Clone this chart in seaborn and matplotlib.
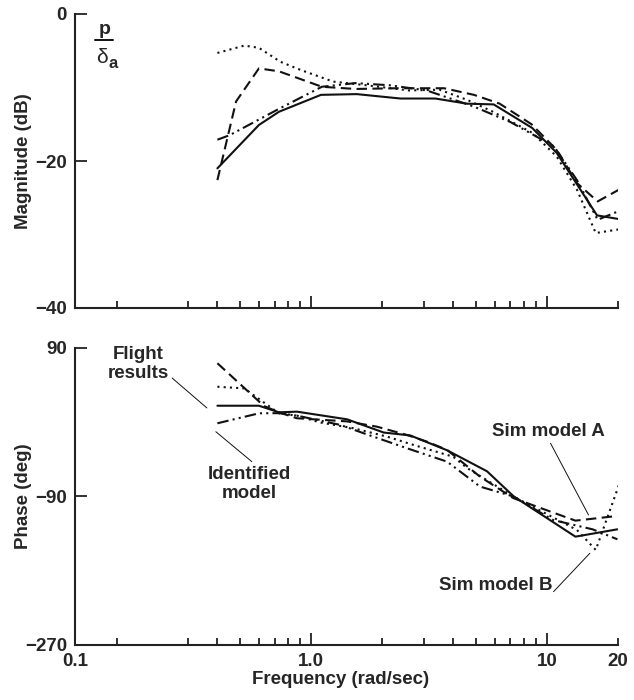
import matplotlib
matplotlib.use("Agg")
import matplotlib.pyplot as plt
from matplotlib.lines import Line2D
from matplotlib.ticker import FixedLocator, NullFormatter
import seaborn as sns
import pandas as pd

# ---------------- data ----------------
# Magnitude (dB)
flight_mag_f = [0.4, 0.6, 0.73, 1.1, 1.56, 2.39, 3.36, 4.58, 5.94, 8.65, 11.0, 16.3, 20.2]
flight_mag = [-21.0, -15.1, -13.3, -11.0, -10.9, -11.5, -11.5, -12.2, -12.3, -15.5, -18.9, -27.4, -27.9]

simA_mag_f = [0.4, 0.48, 0.6, 0.73, 1.11, 1.54, 2.32, 3.66, 4.9, 6.3, 8.6, 11.0, 13.4, 16.4, 20.2]
simA_mag = [-22.6, -11.9, -7.4, -7.8, -9.9, -10.2, -10.1, -10.1, -11.0, -12.2, -15.0, -18.5, -23.0, -25.5, -23.9]

simB_mag_f = [0.4, 0.52, 0.6, 0.74, 0.9, 1.24, 1.72, 2.6, 3.5, 4.6, 5.9, 8.7, 11.0, 13.4, 16.1, 20.2]
simB_mag = [-5.3, -4.3, -4.6, -6.5, -7.6, -9.2, -9.7, -10.4, -10.3, -11.7, -13.3, -16.2, -19.4, -23.9, -29.8, -29.3]

ident_mag_f = [0.4, 0.45, 0.74, 1.11, 1.54, 2.16, 3.09, 4.9, 7.0, 10.7, 13.4, 16.4, 20.2]
ident_mag = [-17.1, -16.5, -12.8, -9.9, -9.4, -9.7, -10.4, -12.6, -14.7, -18.0, -22.6, -28.0, -26.8]

# Phase (deg)
flight_ph_f = [0.4, 0.6, 0.73, 0.87, 1.42, 2.03, 2.63, 3.77, 5.57, 7.23, 13.2, 19.9]
flight_ph = [20, 20, 12, 12.8, 3.5, -12.5, -16, -34, -59.5, -90, -138.7, -129.8]

simA_ph_f = [0.4, 0.63, 0.73, 0.87, 1.42, 1.9, 2.55, 3.1, 3.77, 5.2, 7.2, 13.2, 19.9]
simA_ph = [71.5, 19.7, 12, 4.8, 1, -5.4, -15.5, -23.6, -33.6, -66, -92, -119.3, -113.6]

simB_ph_f = [0.4, 0.52, 0.73, 0.87, 1.09, 1.51, 2.1, 2.72, 4.0, 4.6, 7.2, 13.4, 16.1, 20.2]
simB_ph = [43, 41, 10.8, 8, -0.3, -7.3, -17.5, -27.6, -41.8, -55.8, -90, -130.6, -154.8, -76]

ident_ph_f = [0.4, 0.6, 0.73, 0.87, 1.33, 1.67, 2.55, 3.77, 5.2, 7.2, 10.6, 15.6, 19.9]
ident_ph = [-1.3, 10.8, 11, 8, -3.3, -13.4, -31.6, -47.8, -78, -90, -118.5, -129.8, -141.9]

x_major = [0.1, 1.0, 10, 20]
x_major_labels = ["0.1", "1.0", "10", "20"]
x_minor = [0.15, 0.3, 0.4, 0.5, 0.6, 0.7, 0.8, 0.9, 2, 3, 4, 5, 6, 7, 8, 9]
mag_ticks = [0, -20, -40]
ph_ticks = [90, -90, -270]

# ---------------- style ----------------
sns.set_theme(style="ticks")
plt.rcParams["font.family"] = ["Liberation Sans", "DejaVu Sans"]
plt.rcParams["font.weight"] = "bold"
plt.rcParams["axes.labelweight"] = "bold"
FS = 13.5
plt.rcParams["font.size"] = FS

INK = "#111111"
LW = 1.5
styles = {
    "flight": dict(linestyle="-"),
    "simA": dict(linestyle=(0, (5, 2.6))),
    "simB": dict(linestyle=(0, (1, 2.0))),
    "ident": dict(linestyle=(0, (5.5, 2, 1, 2, 1, 2))),
}

fig = plt.figure(figsize=(6.34, 7.0), dpi=100)
ax1 = fig.add_axes([0.119, 0.56, 0.8557, 0.42])
ax2 = fig.add_axes([0.119, 0.0786, 0.8557, 0.4243])


def draw(ax, f, v, key):
    df = pd.DataFrame({"f": f, "v": v})
    sns.lineplot(data=df, x="f", y="v", ax=ax, sort=False, estimator=None,
                 color=INK, lw=LW, **styles[key])


draw(ax1, flight_mag_f, flight_mag, "flight")
draw(ax1, simA_mag_f, simA_mag, "simA")
draw(ax1, simB_mag_f, simB_mag, "simB")
draw(ax1, ident_mag_f, ident_mag, "ident")

draw(ax2, flight_ph_f, flight_ph, "flight")
draw(ax2, simA_ph_f, simA_ph, "simA")
draw(ax2, simB_ph_f, simB_ph, "simB")
draw(ax2, ident_ph_f, ident_ph, "ident")

for ax, yt, ylim in [(ax1, mag_ticks, (-40, 0)), (ax2, ph_ticks, (-270, 90))]:
    ax.set_xscale("log")
    ax.set_xlim(0.1, 20)
    ax.set_ylim(*ylim)
    for s in ["top", "right"]:
        ax.spines[s].set_visible(False)
    for s in ["left", "bottom"]:
        ax.spines[s].set_color("#222222")
        ax.spines[s].set_linewidth(1.5)
    ax.xaxis.set_major_locator(FixedLocator(x_major))
    ax.xaxis.set_minor_locator(FixedLocator(x_minor))
    ax.xaxis.set_minor_formatter(NullFormatter())
    ax.set_yticks(yt)
    ax.set_yticklabels([str(t).replace("-", "\u2212") for t in yt])
    ax.tick_params(axis="y", direction="in", length=8.6, width=1.3,
                   color="#222222", pad=6, labelsize=FS)
    ax.tick_params(axis="x", which="major", direction="in", length=8.6,
                   width=1.3, color="#222222", pad=6, labelsize=FS)
    ax.tick_params(axis="x", which="minor", direction="in", length=5,
                   width=1.3, color="#222222")
    # the 20 tick is a short one
    ax.xaxis.get_major_ticks()[3].tick1line.set_markersize(5)
    ax.set_xlabel("")

ax1.set_xticklabels([])
ax2.set_xticklabels(x_major_labels)

ax1.set_ylabel("Magnitude (dB)", fontsize=FS, fontweight="bold")
ax1.yaxis.set_label_coords(-0.080, 0.5)
ax2.set_ylabel("Phase (deg)", fontsize=FS, fontweight="bold")
ax2.yaxis.set_label_coords(-0.080, 0.5)
ax2.set_xlabel("Frequency (rad/sec)", fontsize=FS, fontweight="bold")
ax2.xaxis.set_label_coords(0.488, -0.086)

# p / delta_a label
fig.text(0.1656, 0.958, "p", ha="center", va="center", fontsize=14, fontweight="bold")
fig.add_artist(Line2D([0.1498, 0.1782], [0.9425, 0.9425], color=INK, lw=1.4,
                      transform=fig.transFigure))
fig.text(0.1615, 0.918, "\u03b4", ha="center", va="center", fontsize=15, fontweight="normal")
fig.text(0.1785, 0.909, "a", ha="center", va="center", fontsize=12, fontweight="bold")

# annotations
arrow = dict(arrowstyle="-", color=INK, lw=0.7, shrinkA=0, shrinkB=0)
ax2.text(0.184, 70.6, "Flight\nresults", ha="center", va="center",
         fontsize=FS, fontweight="bold", linespacing=1.15)
ax2.annotate("", xy=(0.361, 17.3), xytext=(0.257, 53.6), arrowprops=arrow)
ax2.text(0.545, -74.8, "Identified\nmodel", ha="center", va="center",
         fontsize=FS, fontweight="bold", linespacing=1.15)
ax2.annotate("", xy=(0.394, -11.5), xytext=(0.56, -47.8), arrowprops=arrow)
ax2.text(10.17, -11.8, "Sim model A", ha="center", va="center",
         fontsize=FS, fontweight="bold")
ax2.annotate("", xy=(15.0, -112.4), xytext=(10.35, -25.5), arrowprops=arrow)
ax2.text(6.05, -198.5, "Sim model B", ha="center", va="center",
         fontsize=FS, fontweight="bold")
ax2.annotate("", xy=(15.2, -158.8), xytext=(10.66, -205.4), arrowprops=arrow)

fig.savefig("out.png", dpi=100)
